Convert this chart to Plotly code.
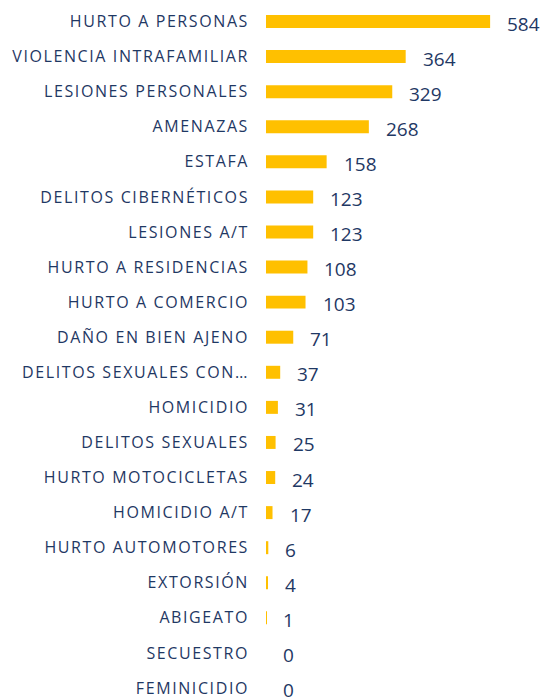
'''
    Horizontal bar chart of reported crimes by type.
'''
import plotly.graph_objects as go

CATEGORIES = [
    "HURTO A PERSONAS", "VIOLENCIA INTRAFAMILIAR", "LESIONES PERSONALES",
    "AMENAZAS", "ESTAFA", "DELITOS CIBERNÉTICOS", "LESIONES A/T",
    "HURTO A RESIDENCIAS", "HURTO A COMERCIO", "DAÑO EN BIEN AJENO",
    "DELITOS SEXUALES CON…", "HOMICIDIO", "DELITOS SEXUALES",
    "HURTO MOTOCICLETAS", "HOMICIDIO A/T", "HURTO AUTOMOTORES",
    "EXTORSIÓN", "ABIGEATO", "SECUESTRO", "FEMINICIDIO",
]
VALUES = [584, 364, 329, 268, 158, 123, 123, 108, 103, 71,
          37, 31, 25, 24, 17, 6, 4, 1, 0, 0]

BAR_COLOR = "#FFC000"
TEXT_COLOR = "#1F3864"
FONT = "'Open Sans', Arial, sans-serif"


def generate_plot():
    fig = go.Figure(
        go.Bar(
            x=VALUES,
            y=CATEGORIES,
            orientation="h",
            marker=dict(color=BAR_COLOR, line=dict(width=0)),
            width=0.37,
            hoverinfo="x+y",
        )
    )

    # value labels just right of each bar, slightly below centre
    for cat, val in zip(CATEGORIES, VALUES):
        fig.add_annotation(
            x=val, y=cat, text=str(val),
            xref="x", yref="y",
            xanchor="left", yanchor="middle",
            xshift=15, yshift=-2,
            showarrow=False,
            font=dict(family=FONT, size=19, color=TEXT_COLOR),
        )

    fig.update_xaxes(
        range=[0, 727],
        visible=False,
        fixedrange=True,
    )
    fig.update_yaxes(
        range=[19.285, -0.613],
        showgrid=False,
        zeroline=False,
        showline=False,
        ticks="",
        ticklabelstandoff=16,
        tickfont=dict(family=FONT, size=16, color=TEXT_COLOR),
        automargin=False,
    )
    fig.update_layout(
        width=545,
        height=698,
        margin=dict(l=266, r=0, t=0, b=0),
        paper_bgcolor="#FFFFFF",
        plot_bgcolor="#FFFFFF",
        showlegend=False,
        font=dict(family=FONT, color=TEXT_COLOR),
    )
    return fig


# page margin off, and the wide letter spacing of the original labels
POST_JS = (
    "document.body.style.margin='0px';"
    "var st=document.createElement('style');"
    "st.textContent='.ytick text{letter-spacing:1.6px;}';"
    "document.head.appendChild(st);"
)

fig = generate_plot()
fig.write_html(
    "out.html",
    config={"displayModeBar": False},
    post_script=POST_JS,
)
